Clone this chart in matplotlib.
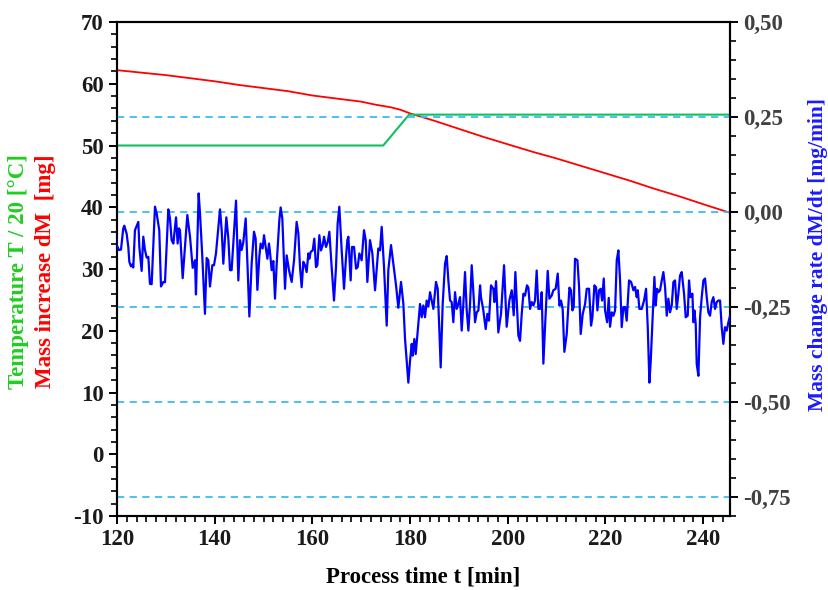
import matplotlib
matplotlib.use("Agg")
import matplotlib.pyplot as plt
from matplotlib.ticker import MultipleLocator, FuncFormatter

# Mass increase dM [mg]
mass_t = [120, 125, 130, 135, 140, 145, 150, 155, 160, 165, 170, 173, 176, 178, 180,
          185, 190, 195, 200, 205, 210, 215, 220, 225, 230, 235, 240, 245.5]
mass_dm = [62.2, 61.8, 61.4, 60.9, 60.4, 59.8, 59.3, 58.8, 58.1, 57.6, 57.1, 56.6, 56.2, 55.8, 55.2,
           54.0, 52.7, 51.4, 50.2, 49.0, 47.9, 46.7, 45.5, 44.3, 43.0, 41.8, 40.5, 39.1]

# Temperature T / 20 [°C]
temp_t = [120, 174.5, 179.8, 245.5]
temp_val = [50.0, 50.0, 55.0, 55.0]

# Mass change rate dM/dt [mg/min]
rate_t = [
    119.79, 119.93, 120.41, 120.82, 121.29, 121.50, 121.98, 122.32, 122.53, 122.86,
    123.14, 123.34, 123.68, 124.37, 124.58, 125.05, 125.39, 125.73, 126.08, 126.42,
    126.75, 127.10, 127.78, 128.13, 128.66, 129.01, 129.49, 129.83, 130.51, 130.85,
    131.19, 131.54, 132.09, 132.42, 132.69, 132.90, 133.45, 133.93, 134.40, 134.95,
    135.50, 135.97, 136.17, 136.72, 137.00, 137.47, 138.01, 138.36, 138.70, 139.04,
    139.52, 139.86, 140.27, 141.09, 141.44, 141.77, 142.39, 142.80, 143.14, 143.47,
    143.82, 144.37, 144.85, 145.19, 145.52, 145.87, 146.35, 146.76, 147.10, 147.57,
    148.05, 148.39, 148.74, 149.14, 149.41, 149.82, 150.10, 150.44, 150.79, 151.12,
    151.32, 151.67, 152.01, 152.35, 152.70, 153.24, 153.51, 153.85, 154.40, 154.74,
    155.22, 155.76, 156.25, 156.78, 157.13, 157.47, 157.81, 158.16, 158.49, 158.83,
    159.18, 159.38, 159.66, 160.07, 160.40, 160.74, 161.02, 161.43, 161.77, 162.12,
    162.39, 162.79, 163.14, 163.48, 163.95, 164.43, 164.84, 165.18, 165.52, 166.00,
    166.48, 166.89, 167.16, 167.37, 167.84, 168.11, 168.53, 168.94, 169.28, 169.62,
    170.09, 170.57, 170.92, 171.26, 171.80, 172.28, 172.83, 173.50, 173.85, 174.19,
    174.67, 175.22, 175.55, 176.10, 176.58, 177.13, 177.60, 178.15, 178.63, 178.97,
    179.31, 179.65, 179.99, 180.34, 180.54, 180.88, 181.15, 181.49, 182.04, 182.38,
    182.72, 183.06, 183.40, 183.75, 184.09, 184.43, 184.77, 185.31, 185.66, 186.00,
    186.27, 186.68, 187.16, 187.50, 187.84, 188.19, 188.52, 188.86, 189.21, 189.55,
    189.89, 190.23, 190.57, 190.91, 191.25, 191.60, 191.94, 192.28, 192.62, 192.96,
    193.30, 193.65, 193.99, 194.33, 194.52, 195.00, 195.48, 195.83, 196.16, 196.57,
    197.05, 197.26, 197.60, 198.07, 198.62, 199.24, 199.78, 200.33, 200.81, 201.22,
    201.56, 202.17, 202.51, 202.86, 203.20, 203.53, 203.94, 204.22, 204.56, 204.90,
    205.25, 205.58, 205.92, 206.27, 206.61, 206.95, 207.29, 207.63, 208.18, 208.52,
    208.99, 209.33, 209.81, 210.23, 210.57, 210.91, 211.24, 211.59, 212.07, 212.62,
    212.96, 213.23, 213.50, 213.77, 214.26, 214.60, 214.93, 215.35, 215.83, 216.17,
    216.64, 217.05, 217.33, 217.74, 218.08, 218.35, 218.69, 219.03, 219.31, 219.65,
    219.92, 220.34, 220.67, 220.94, 221.29, 221.63, 221.97, 222.31, 222.65, 222.99,
    223.33, 223.68, 224.01, 224.35, 224.83, 225.25, 225.72, 226.06, 226.40, 226.61,
    226.95, 227.43, 227.90, 228.31, 228.66, 229.00, 229.27, 229.69, 230.02, 230.29,
    230.57, 230.84, 231.18, 231.53, 231.86, 232.20, 232.55, 232.88, 233.22, 233.57,
    233.91, 234.25, 234.59, 234.93, 235.27, 235.61, 236.09, 236.43, 236.84, 237.11,
    237.39, 237.80, 238.01, 238.21, 238.48, 238.68, 239.03, 239.37, 239.71, 240.05,
    240.39, 240.73, 241.07, 241.41, 241.75, 242.09, 242.44, 242.78, 243.11, 243.46,
    243.80, 244.14, 244.48, 244.83, 245.17, 245.50,
]
rate_val = [
    -0.052, -0.087, -0.100, -0.099, -0.043, -0.036, -0.057, -0.092, -0.131, -0.143,
    -0.138, -0.146, -0.048, -0.026, -0.092, -0.155, -0.065, -0.100, -0.120, -0.118,
    -0.189, -0.190, 0.014, -0.004, -0.048, -0.196, -0.184, -0.185, 0.007, -0.017,
    -0.074, -0.083, -0.014, -0.083, -0.043, -0.048, -0.174, -0.092, -0.008, -0.065,
    -0.147, -0.127, -0.217, 0.049, -0.004, -0.118, -0.268, -0.121, -0.127, -0.196,
    -0.140, -0.140, -0.109, 0.007, -0.048, -0.136, -0.014, -0.070, -0.153, -0.153,
    -0.083, 0.030, -0.180, -0.074, -0.100, -0.079, -0.017, -0.153, -0.275, -0.136,
    -0.052, -0.070, -0.205, -0.118, -0.083, -0.096, -0.061, -0.092, -0.123, -0.083,
    -0.105, -0.153, -0.129, -0.228, -0.136, -0.021, 0.012, -0.017, -0.202, -0.114,
    -0.153, -0.184, -0.127, -0.026, -0.056, -0.145, -0.198, -0.131, -0.140, -0.158,
    -0.109, -0.123, -0.105, -0.101, -0.070, -0.145, -0.140, -0.061, -0.101, -0.087,
    -0.065, -0.092, -0.079, -0.052, -0.145, -0.233, -0.145, -0.030, 0.014, -0.101,
    -0.202, -0.118, -0.074, -0.065, -0.180, -0.092, -0.092, -0.149, -0.145, -0.109,
    -0.127, -0.048, -0.074, -0.184, -0.074, -0.109, -0.206, -0.096, -0.101, -0.039,
    -0.145, -0.299, -0.153, -0.087, -0.136, -0.193, -0.252, -0.184, -0.242, -0.334,
    -0.392, -0.449, -0.392, -0.347, -0.378, -0.334, -0.374, -0.325, -0.242, -0.277,
    -0.246, -0.277, -0.233, -0.249, -0.211, -0.233, -0.255, -0.184, -0.202, -0.312,
    -0.409, -0.242, -0.136, -0.116, -0.180, -0.233, -0.237, -0.290, -0.211, -0.255,
    -0.242, -0.224, -0.312, -0.242, -0.158, -0.259, -0.312, -0.242, -0.140, -0.211,
    -0.290, -0.264, -0.259, -0.193, -0.224, -0.259, -0.308, -0.268, -0.286, -0.193,
    -0.202, -0.237, -0.182, -0.317, -0.268, -0.140, -0.302, -0.233, -0.206, -0.272,
    -0.158, -0.325, -0.339, -0.268, -0.215, -0.220, -0.193, -0.199, -0.255, -0.237,
    -0.246, -0.233, -0.154, -0.255, -0.255, -0.211, -0.399, -0.303, -0.155, -0.228,
    -0.220, -0.206, -0.202, -0.162, -0.246, -0.233, -0.255, -0.368, -0.321, -0.199,
    -0.206, -0.259, -0.250, -0.123, -0.127, -0.197, -0.321, -0.268, -0.242, -0.202,
    -0.202, -0.299, -0.277, -0.193, -0.198, -0.259, -0.206, -0.202, -0.233, -0.175,
    -0.259, -0.290, -0.226, -0.302, -0.264, -0.273, -0.259, -0.127, -0.101, -0.180,
    -0.303, -0.250, -0.250, -0.286, -0.180, -0.184, -0.206, -0.197, -0.224, -0.206,
    -0.255, -0.255, -0.233, -0.202, -0.303, -0.449, -0.392, -0.268, -0.171, -0.246,
    -0.202, -0.211, -0.206, -0.180, -0.158, -0.197, -0.273, -0.228, -0.264, -0.246,
    -0.184, -0.180, -0.255, -0.215, -0.167, -0.158, -0.215, -0.277, -0.273, -0.180,
    -0.224, -0.215, -0.290, -0.259, -0.295, -0.400, -0.431, -0.277, -0.224, -0.180,
    -0.175, -0.224, -0.264, -0.273, -0.237, -0.224, -0.255, -0.237, -0.233, -0.233,
    -0.303, -0.347, -0.303, -0.312, -0.290, -0.273,
]

plt.rcParams['font.family'] = ['Liberation Serif', 'DejaVu Serif']
plt.rcParams['font.weight'] = 'bold'
plt.rcParams['axes.unicode_minus'] = False

FS = 16.5

fig = plt.figure(figsize=(8.29, 5.90), dpi=100)
ax = fig.add_axes([0.1411, 0.1254, 0.7395, 0.8373])
ax2 = ax.twinx()

ax.plot(mass_t, mass_dm, color='#ff0000', linewidth=1.3)
ax.plot(temp_t, temp_val, color='#10c060', linewidth=1.5)

ax2.set_axisbelow(True)
ax2.grid(axis='y', color='#3dbcf2', linestyle=(0, (4, 3)), linewidth=1.3)
ax2.plot(rate_t, rate_val, color='#0000ff', linewidth=1.6, zorder=3)

ax.set_xlim(120, 245.5)
ax.set_ylim(-10, 70)
ax2.set_ylim(-0.8, 0.5)

ax.xaxis.set_major_locator(MultipleLocator(20))
ax.xaxis.set_minor_locator(MultipleLocator(2))
ax.yaxis.set_major_locator(MultipleLocator(10))
ax.yaxis.set_minor_locator(MultipleLocator(2))
ax2.yaxis.set_major_locator(MultipleLocator(0.25))
ax2.yaxis.set_minor_locator(MultipleLocator(0.05))
ax2.yaxis.set_major_formatter(FuncFormatter(lambda v, p: f"{v:.2f}".replace('.', ',')))

for a in (ax, ax2):
    for s in a.spines.values():
        s.set_linewidth(1.5)
    a.tick_params(which='major', direction='out', length=6, width=1.4, labelsize=FS)
    a.tick_params(which='minor', direction='out', length=4, width=1.2)
ax.tick_params(axis='both', which='both', colors='#1a1a1a', color='black')
ax2.tick_params(axis='y', which='both', colors='#404040', color='black')

ax.set_xlabel('Process time t [min]', fontsize=FS, fontweight='bold', labelpad=12)

fig.text(0.022, 0.54, 'Temperature T / 20 [°C]', rotation=90, color='#22cc22',
         fontsize=FS, fontweight='bold', ha='center', va='center')
fig.text(0.055, 0.54, 'Mass increase dM  [mg]', rotation=90, color='#ff0000',
         fontsize=FS, fontweight='bold', ha='center', va='center')
fig.text(0.987, 0.568, 'Mass change rate dM/dt [mg/min]', rotation=90, color='#1a1aff',
         fontsize=15.5, fontweight='bold', ha='center', va='center')

fig.savefig('out.png', dpi=100)
